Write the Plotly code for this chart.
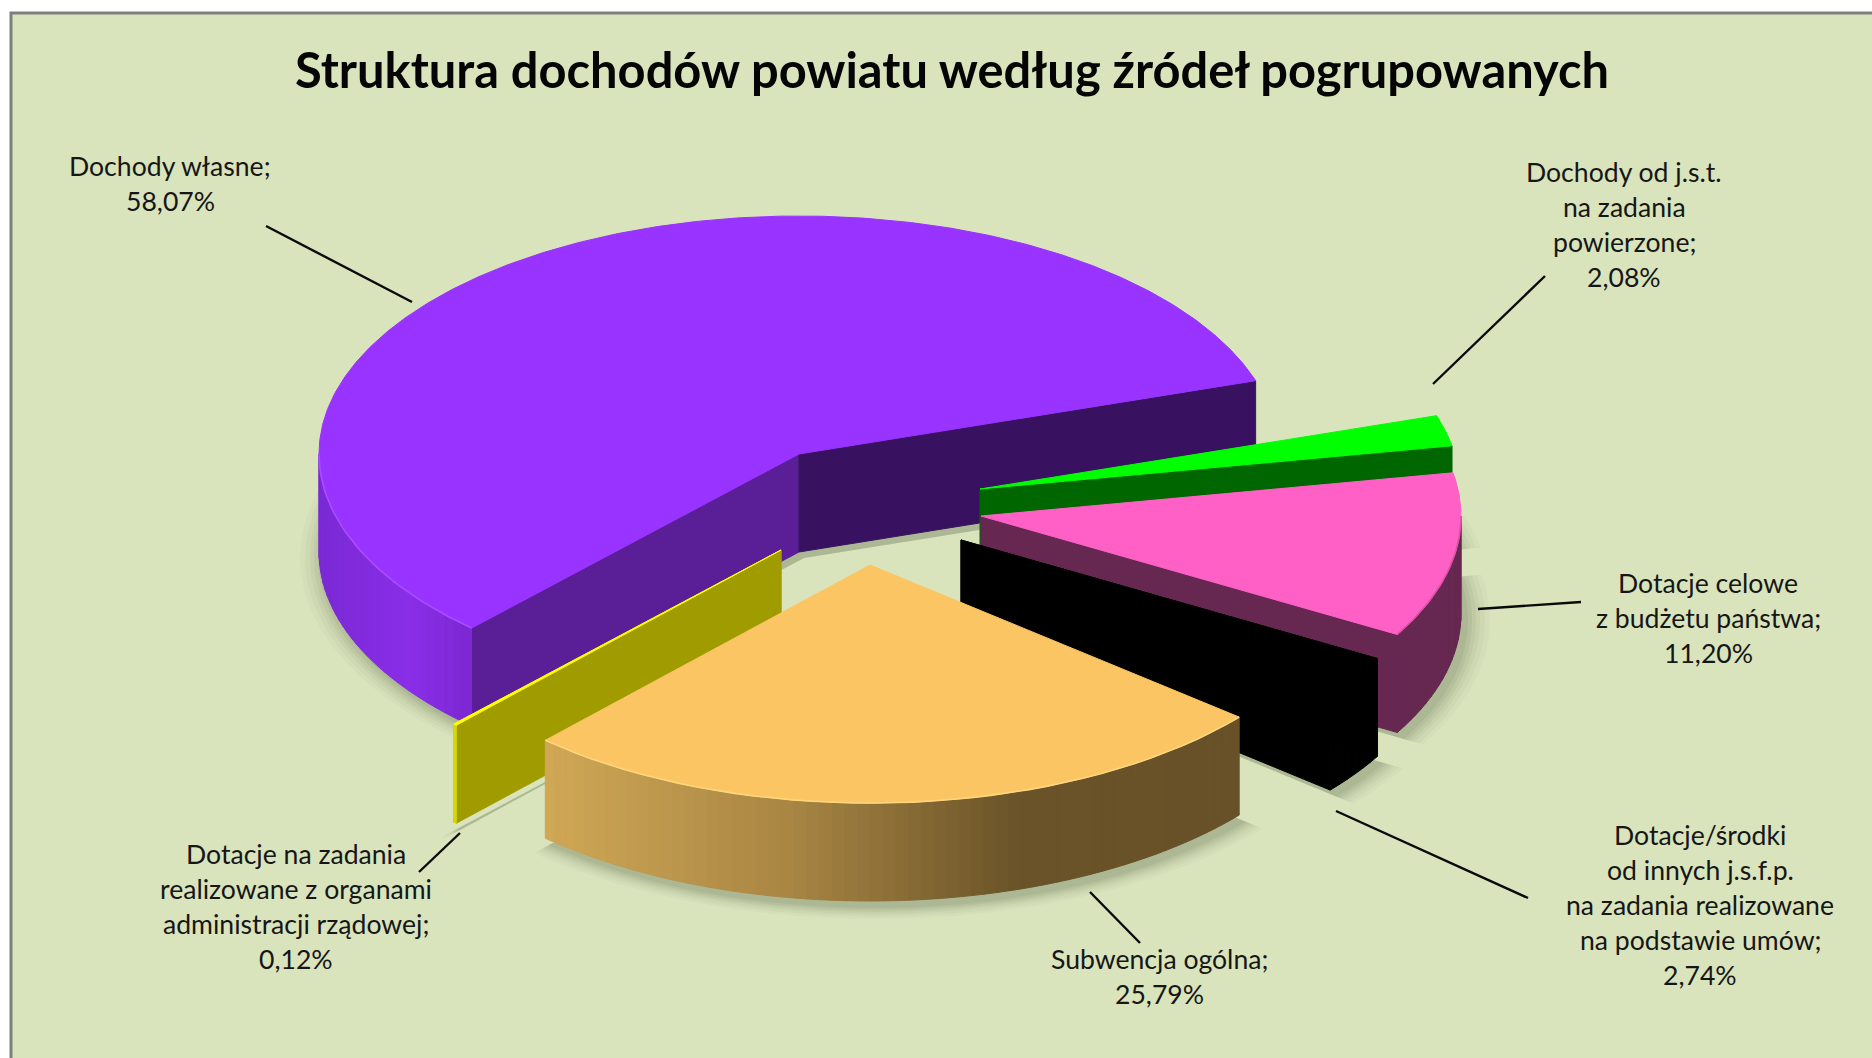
import numpy as np
import plotly.graph_objects as go

# ---- data ----
CATEGORIES = ["Dochody własne", "Dochody od j.s.t. na zadania powierzone",
              "Dotacje celowe z budżetu państwa",
              "Dotacje/środki od innych j.s.f.p. na zadania realizowane na podstawie umów",
              "Subwencja ogólna",
              "Dotacje na zadania realizowane z organami administracji rządowej"]
VALUES = [58.07, 2.08, 11.20, 2.74, 25.79, 0.12]
LABEL_LINES = [["Dochody własne;"],
               ["Dochody od j.s.t.", "na zadania", "powierzone;"],
               ["Dotacje celowe", "z budżetu państwa;"],
               ["Dotacje/środki", "od innych j.s.f.p.", "na zadania realizowane", "na podstawie umów;"],
               ["Subwencja ogólna;"],
               ["Dotacje na zadania", "realizowane z organami", "administracji rządowej;"]]
TITLE = "Struktura dochodów powiatu według źródeł pogrupowanych"

# ---- styles and layout (pixels of the 1872x1058 page) ----
W, H = 1872, 1058
RX, RY, DEPTH = 480, 238, 98
START_ANGLE = 227.0
APEX = [(799, 454), (980, 489), (981, 516), (961, 540), (870, 565), (781, 550)]
PAINT_ORDER = [0, 1, 2, 3, 5, 4]
TOP = ["#9933FF", "#00FF00", "#FF60C6", "#000000", "#FBC564", "#FFFF00"]
WALL_START = ["#5A1E96", None, None, "#000000", None, "#A09C00"]
WALL_END = ["#381260", "#006600", "#662850", "#000000", None, "#A09C00"]
RIM = [[(0, "#7A2AD4"), (.6, "#8A2EE8"), (1, "#7C28D2")],
       [(0, "#006600"), (1, "#006600")],
       [(0, "#662850"), (1, "#662850")],
       [(0, "#000000"), (1, "#000000")],
       [(0, "#D0A856"), (.35, "#A98644"), (.68, "#6B5429"), (1, "#685128")],
       [(0, "#D8D800"), (1, "#D8D800")]]
HILITE = ["#A94DFF", None, "#E050A8", None, "#FFD67C", None]
LABEL_POS = [(170, 166), (1624, 172), (1708, 583), (1700, 835), (1159, 959), (296, 854)]
LINE_STEP = 35
LEADERS = [((266, 226), (412, 302)), ((1545, 276), (1433, 384)), ((1581, 602), (1478, 609)),
           ((1336, 811), (1528, 898)), ((1090, 892), (1140, 943)), ((460, 833), (419, 872))]
FONT = "Lato"
LABEL_SIZE = 26.6
TITLE_SIZE = 48.8
TEXT_COLOR = "#161616"


def hex2rgb(c):
    return np.array([int(c[i:i + 2], 16) for i in (1, 3, 5)], float)


def gradient(stops, f):
    for (a, ca), (b, cb) in zip(stops, stops[1:]):
        if f <= b:
            k = 0 if b == a else (f - a) / (b - a)
            r = hex2rgb(ca) * (1 - k) + hex2rgb(cb) * k
            return "rgb(%d,%d,%d)" % tuple(r)
    return stops[-1][1]


def rim_xy(ap, t, grow=0.0):
    r = np.radians(t)
    return ap[0] + (RX + grow) * np.cos(r), ap[1] - (RY + grow * RY / RX) * np.sin(r)


fig = go.Figure()


def poly(xs, ys, color, lw=1.0):
    fig.add_trace(go.Scatter(x=list(xs) + [xs[0]], y=list(ys) + [ys[0]], mode="lines",
                             fill="toself", fillcolor=color,
                             line=dict(color=color, width=lw), hoverinfo="skip",
                             showlegend=False))


# slice angles come from the values
spans = [v * 3.6 for v in VALUES]
starts, ends, cur = [], [], START_ANGLE
for s in spans:
    starts.append(cur)
    cur -= s
    ends.append(cur)

# soft shadows
for grow, alpha in [(24, .03), (19, .04), (14, .05), (10, .06), (6, .07), (2, .08)]:
    for ap, a0, a1 in zip(APEX, starts, ends):
        ts = np.linspace(a1, a0, max(int(a0 - a1), 2) + 1)
        px, py = zip(*[rim_xy((ap[0] + 5, ap[1] + DEPTH + 6), t, grow) for t in ts])
        xs = [ap[0] + 5] + list(px)
        ys = [ap[1] + DEPTH + 6 + 0] + list(py)
        poly(xs, ys, f"rgba(70,85,50,{alpha})", 0)

for i in PAINT_ORDER:
    ap, a0, a1 = APEX[i], starts[i], ends[i]
    # flat cut walls
    for ang, col in ((a0, WALL_START[i]), (a1, WALL_END[i])):
        if col:
            tx, ty = rim_xy(ap, ang)
            poly([ap[0], tx, tx, ap[0]], [ap[1], ty, ty + DEPTH, ap[1] + DEPTH], col)
    # front rim, as narrow strips so its colour can shade along the arc
    lo, hi = a1, a0
    rim_ranges = []
    for k in (-360, 0):
        l, h = max(lo, 180 + k), min(hi, 360 + k)
        if l < h:
            rim_ranges.append((l, h))
    for l, h in rim_ranges:
        n = max(int((h - l) / 1.5), 1)
        edges = np.linspace(l, h, n + 1)
        xa, _ = rim_xy(ap, l)
        xb, _ = rim_xy(ap, h)
        x_min, x_max = min(xa, xb, ap[0] - RX if l <= 180 <= h else xa), max(xa, xb)
        for t1, t2 in zip(edges, edges[1:]):
            x1, y1 = rim_xy(ap, t1)
            x2, y2 = rim_xy(ap, t2)
            f = ((x1 + x2) / 2 - x_min) / max(x_max - x_min, 1)
            poly([x1, x2, x2, x1], [y1, y2, y2 + DEPTH, y1 + DEPTH], gradient(RIM[i], f))
    # top face
    ts = np.linspace(a1, a0, max(int((a0 - a1) * 2), 2) + 1)
    px, py = zip(*[rim_xy(ap, t) for t in ts])
    poly([ap[0]] + list(px), [ap[1]] + list(py), TOP[i], 1)
    # light bevel on the front edge of the top face
    if HILITE[i]:
        for l, h in rim_ranges:
            tt = np.linspace(l, h, 40)
            hx, hy = zip(*[rim_xy(ap, t) for t in tt])
            fig.add_trace(go.Scatter(x=hx, y=hy, mode="lines", hoverinfo="skip", showlegend=False,
                                     line=dict(color=HILITE[i], width=1.6)))

# leader lines
for (p, q) in LEADERS:
    fig.add_trace(go.Scatter(x=[p[0], q[0]], y=[p[1], q[1]], mode="lines", hoverinfo="skip",
                             showlegend=False, line=dict(color="#0a0a0a", width=2.4)))

# text
ann = [dict(x=W * 0.5085, y=69, text=f"<b>{TITLE}</b>", showarrow=False, xref="x", yref="y",
            xanchor="center", yanchor="middle", font=dict(family=FONT, size=TITLE_SIZE, color="#050505"))]
for lines, v, (lx, ly) in zip(LABEL_LINES, VALUES, LABEL_POS):
    all_lines = lines + [f"{v:.2f}".replace(".", ",") + "%"]
    for j, t in enumerate(all_lines):
        ann.append(dict(x=lx, y=ly + j * LINE_STEP, text=t, showarrow=False, xref="x", yref="y",
                        xanchor="center", yanchor="middle",
                        font=dict(family=FONT, size=LABEL_SIZE, color=TEXT_COLOR)))

fig.update_layout(
    width=W, height=H, margin=dict(l=0, r=0, t=0, b=0), paper_bgcolor="white", plot_bgcolor="white",
    xaxis=dict(range=[0, W], visible=False, fixedrange=True),
    yaxis=dict(range=[H, 0], visible=False, fixedrange=True),
    annotations=ann,
    shapes=[dict(type="rect", xref="x", yref="y", x0=11, y0=13, x1=W + 20, y1=H + 20,
                 fillcolor="#D9E4BD", line=dict(color="#7f7f7f", width=3), layer="below")],
)
fig.write_html("out.html", post_script="document.body.style.margin='0';document.body.style.overflow='hidden';",
               config=dict(displayModeBar=False))
